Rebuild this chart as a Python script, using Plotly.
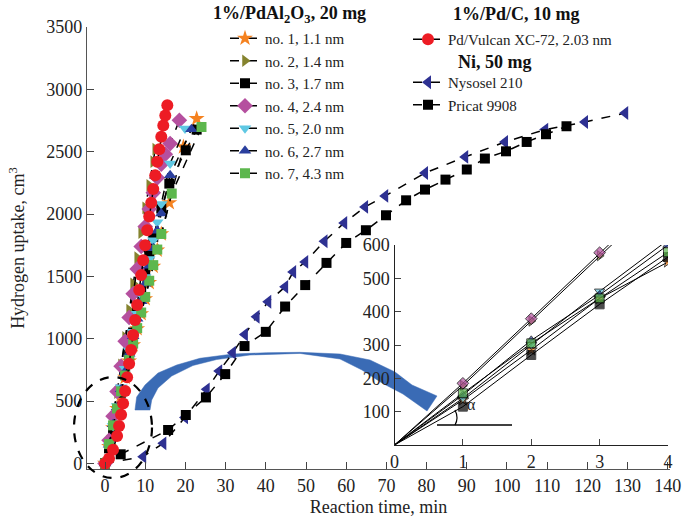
import plotly.graph_objects as go

# ---------------- data ----------------
# main panel: 1%/PdAl2O3 catalysts (time, min ; uptake, cm3)
t_no1 = [0, 1, 2, 3, 4, 5, 6, 7, 8, 9, 10, 11, 12, 13, 14, 16, 19.5, 22.8]
y_no1 = [0, 135, 285, 440, 549, 690, 820, 950, 1080, 1200, 1320, 1450, 1580, 1710, 1840, 2090, 2538, 2765]
t_no2 = [0, 1, 2, 3, 4, 5, 6, 7, 8, 9, 10, 11, 12, 12.5]
y_no2 = [0, 178, 372, 568, 790, 1010, 1230, 1440, 1650, 1850, 2050, 2230, 2420, 2520]
t_no3 = [0, 1, 2, 3, 4, 5, 6, 7, 8, 9, 10, 11, 12, 14, 16, 20.1, 22.8]
y_no3 = [0, 121, 268, 428, 567, 722, 874, 1050, 1229, 1381, 1536, 1678, 1817, 2044, 2244, 2511, 2677]
t_no4 = [0, 1, 2, 3, 4, 5, 6, 7, 8, 9, 10, 11, 12, 13, 14, 15, 16.2, 18.5]
y_no4 = [0, 185, 379, 577, 780, 980, 1170, 1360, 1560, 1740, 1900, 2040, 2170, 2290, 2400, 2480, 2565, 2752]
t_no5 = [0, 1, 2, 3, 4, 5, 6, 7, 8, 9, 10, 11, 12, 13, 14, 16.2, 19.9]
y_no5 = [0, 140, 300, 461, 610, 760, 905, 1055, 1200, 1350, 1495, 1640, 1790, 1935, 2080, 2405, 2685]
t_no6 = [0, 1, 2, 3, 4, 5, 6, 7, 8, 9, 10, 11, 12, 13, 14, 16.2, 21.5]
y_no6 = [0, 150, 314, 450, 595, 735, 880, 1020, 1160, 1300, 1440, 1585, 1725, 1865, 2005, 2311, 2680]
t_no7 = [0, 1, 2, 3, 4, 5, 6, 7, 8, 9, 10, 11, 12, 13, 14, 16.6, 24]
y_no7 = [0, 155, 305, 440, 578, 705, 830, 960, 1085, 1210, 1335, 1465, 1590, 1715, 1840, 2164, 2698]
# 1%/Pd/C
t_vulcan = [0, 1, 2, 3, 3.5, 4, 4.5, 5, 5.5, 6, 6.5, 7, 7.5, 8, 8.5, 9, 9.5, 10, 10.5,
            11, 11.5, 12, 12.5, 13, 13.5, 14, 14.5, 15, 15.5]
y_vulcan = [0, 40, 110, 220, 300, 390, 480, 580, 690, 800, 910, 1030, 1150, 1270, 1390, 1510, 1630, 1750, 1870,
            1980, 2090, 2200, 2310, 2420, 2520, 2620, 2710, 2790, 2872]
# Ni catalysts
t_nysosel = [0, 9.5, 14.5, 19.9, 25.3, 28.4, 31.8, 34.8, 37.7, 40.6, 44.8, 46.8, 49.8, 54.6, 59.5, 64.7, 69.7,
             79.6, 89.6, 99.5, 109.5, 119.4, 129.4]
y_nysosel = [0, 54, 161, 369, 594, 740, 887, 1034, 1176, 1296, 1416, 1536, 1616, 1782, 1929, 2057, 2145,
             2329, 2458, 2578, 2677, 2738, 2810]
t_pricat = [0, 3.9, 15.7, 20.1, 25.1, 29.9, 34.7, 40, 44.8, 49.8, 55.1, 60, 64.9, 69.9, 74.9, 79.6, 84.7,
            90, 94.5, 99.75, 104.9, 109.7, 114.8]
y_pricat = [0, 73, 268, 388, 529, 716, 941, 1055, 1258, 1430, 1608, 1768, 1870, 1990, 2110, 2196, 2276,
            2357, 2445, 2503, 2578, 2640, 2704]

# inset: initial part (t = 0..4 min)
t_inset = [0, 1, 2, 3, 4]
ins_no1 = [0, 135, 285, 440, 549]
ins_no2 = [0, 178, 372, 568, 760]
ins_no3 = [0, 115, 270, 422, 564]
ins_no4 = [0, 185, 379, 577, 770]
ins_no5 = [0, 140, 300, 461, 615]
ins_no6 = [0, 150, 314, 450, 600]
ins_no7 = [0, 155, 305, 440, 578]

x_ticks = list(range(0, 141, 10))
y_ticks = list(range(0, 3501, 500))
inset_xticks = [0, 1, 2, 3, 4]
inset_yticks = [100, 200, 300, 400, 500, 600]

# ---------------- styling ----------------
W, H = 685, 528
ML, MR, MT, MB = 87, 15, 27, 59
PW, PH = W - ML - MR, H - MT - MB
FONT = "Liberation Serif"


def P(px, py):
    """pixel -> paper coordinates (for decorations only)"""
    return (px - ML) / PW, (H - MB - py) / PH


pd_series = [
    ("no. 1, 1.1 nm", t_no1, y_no1, ins_no1, "star", "#F58220", 12),
    ("no. 2, 1.4 nm", t_no2, y_no2, ins_no2, "triangle-right", "#85832E", 11),
    ("no. 3, 1.7 nm", t_no3, y_no3, ins_no3, "square", "#000000", 10),
    ("no. 4, 2.4 nm", t_no4, y_no4, ins_no4, "diamond", "#B5509F", 12),
    ("no. 5, 2.0 nm", t_no5, y_no5, ins_no5, "triangle-down", "#5FC8E3", 11),
    ("no. 6, 2.7 nm", t_no6, y_no6, ins_no6, "triangle-up", "#2A3F9E", 11),
    ("no. 7, 4.3 nm", t_no7, y_no7, ins_no7, "square", "#5DB74E", 10),
]

fig = go.Figure()
dash_line = dict(color="black", width=1.5, dash="dash")

# Ni curves first (drawn underneath)
fig.add_trace(go.Scatter(x=t_nysosel, y=y_nysosel, mode="lines+markers", name="Nysosel 210",
                         line=dash_line, legend="legend3",
                         marker=dict(symbol="triangle-left", size=12, color="#2E3192")))
fig.add_trace(go.Scatter(x=t_pricat, y=y_pricat, mode="lines+markers", name="Pricat 9908",
                         line=dash_line, legend="legend3",
                         marker=dict(symbol="square", size=10, color="black")))

for name, tx, ty, _, sym, col, sz in pd_series:
    fig.add_trace(go.Scatter(x=tx, y=ty, mode="lines+markers", name=name, line=dash_line,
                             legend="legend",
                             marker=dict(symbol=sym, size=sz, color=col)))

fig.add_trace(go.Scatter(x=t_vulcan, y=y_vulcan, mode="lines+markers", name="Pd/Vulcan XC-72, 2.03 nm",
                         line=dash_line, legend="legend2",
                         marker=dict(symbol="circle", size=12, color="#ED1C24")))

# inset traces
for name, _, _, iy, sym, col, sz in pd_series:
    fig.add_trace(go.Scatter(x=t_inset, y=iy, mode="lines+markers", xaxis="x2", yaxis="y2",
                             showlegend=False, line=dict(color="black", width=1),
                             marker=dict(symbol=sym, size=[0] + [9] * (len(iy) - 1), color=col)))

axis_font = dict(family=FONT, size=18, color="#222")
fig.update_layout(
    width=W, height=H, autosize=False,
    margin=dict(l=ML, r=MR, t=MT, b=MB, autoexpand=False),
    paper_bgcolor="white", plot_bgcolor="rgba(0,0,0,0)",
    font=dict(family=FONT, size=15, color="#222"),
    xaxis=dict(range=[-4.48, 140.55], tickvals=x_ticks, ticks="inside", ticklen=7,
               showline=True, linecolor="#555", linewidth=1.2, showgrid=False, zeroline=False,
               automargin=False,
               tickfont=axis_font, title=dict(text="Reaction time, min", font=dict(family=FONT, size=18), standoff=5)),
    yaxis=dict(range=[-45, 3500], tickvals=y_ticks, ticks="inside", ticklen=7,
               showline=True, linecolor="#555", linewidth=1.2, showgrid=False, zeroline=False,
               automargin=False,
               tickfont=axis_font, title=dict(text="Hydrogen uptake, cm<sup>3</sup>", font=dict(family=FONT, size=18), standoff=16)),
    xaxis2=dict(domain=[P(394.5, 0)[0], P(668, 0)[0]], range=[0, 4], anchor="y2", tickvals=inset_xticks,
                ticks="inside", ticklen=6, showline=True, linecolor="#222", linewidth=1.2,
                showgrid=False, zeroline=False, tickfont=axis_font, automargin=False),
    yaxis2=dict(domain=[P(0, 445)[1], P(0, 245)[1]], range=[0, 600], anchor="x2", tickvals=inset_yticks,
                ticks="inside", ticklen=6, showline=True, linecolor="#222", linewidth=1.2,
                showgrid=False, zeroline=False, tickfont=axis_font, automargin=False),
    legend=dict(x=P(225, 0)[0], y=P(0, 22)[1], xanchor="left", yanchor="top",
                bgcolor="rgba(0,0,0,0)", font=dict(family=FONT, size=15, color="#222"),
                tracegroupgap=0),
    legend2=dict(x=P(408, 0)[0], y=P(0, 23)[1], xanchor="left", yanchor="top",
                 bgcolor="rgba(0,0,0,0)", font=dict(family=FONT, size=15, color="#222")),
    legend3=dict(x=P(408, 0)[0], y=P(0, 66)[1], xanchor="left", yanchor="top",
                 bgcolor="rgba(0,0,0,0)", font=dict(family=FONT, size=15, color="#222"),
                 traceorder="normal"),
)

# headers
for txt, (px, py) in [("<b>1%/PdAl<sub>2</sub>O<sub>3</sub>, 20 mg</b>", (289, 14)),
                      ("<b>1%/Pd/C, 10 mg</b>", (516, 14)),
                      ("<b>Ni, 50 mg</b>", (495, 62))]:
    x, y = P(px, py)
    fig.add_annotation(x=x, y=y, xref="paper", yref="paper", text=txt, showarrow=False,
                       font=dict(family=FONT, size=18, color="#111"), xanchor="center", yanchor="middle")

# curved blue ribbon arrow (decoration)
upper = [(135, 410), (136.7, 397), (145, 385), (158, 373), (176.7, 365), (200, 358.3), (233, 354),
         (266.7, 352.7), (300, 352.3), (340, 354), (370, 360), (395, 372), (412, 385)]
head = [(437, 396), (427, 411), (403, 394)]
lower = [(382, 383), (362, 370), (340, 359), (300, 353.4), (250, 355), (216.7, 359.5), (193, 365.5),
         (171.7, 376), (158, 388), (151.7, 400), (150, 410)]
pts = upper + head + lower
path = "M " + " L ".join("{:.4f},{:.4f}".format(*P(px, py)) for px, py in pts) + " Z"
fig.add_shape(type="path", path=path, xref="paper", yref="paper", fillcolor="#3A6BB5",
              line=dict(color="#3A6BB5", width=0.5), layer="below")

# dashed ellipse around the initial region
x0, y0 = P(74, 478)
x1, y1 = P(152, 377)
fig.add_shape(type="circle", xref="paper", yref="paper", x0=x0, y0=y0, x1=x1, y1=y1,
              line=dict(color="black", width=2.2, dash="dash"))

# angle alpha marker in the inset
xa, ya = P(437, 425)
xb, yb = P(512, 425)
fig.add_shape(type="line", xref="paper", yref="paper", x0=xa, y0=ya, x1=xb, y1=yb,
              line=dict(color="black", width=1.5))
a0, a1, a2 = P(455, 425), P(459, 418), P(455, 410)
fig.add_shape(type="path", xref="paper", yref="paper",
              path="M {:.4f},{:.4f} Q {:.4f},{:.4f} {:.4f},{:.4f}".format(*a0, *a1, *a2),
              line=dict(color="black", width=1.2))
xt, yt = P(471, 415)
fig.add_annotation(x=xt, y=yt, xref="paper", yref="paper", text="α", showarrow=False,
                   font=dict(family=FONT, size=16, color="#222"))

fig.write_html("out.html", config={"displayModeBar": False},
               post_script="document.body.style.margin='0px';")
